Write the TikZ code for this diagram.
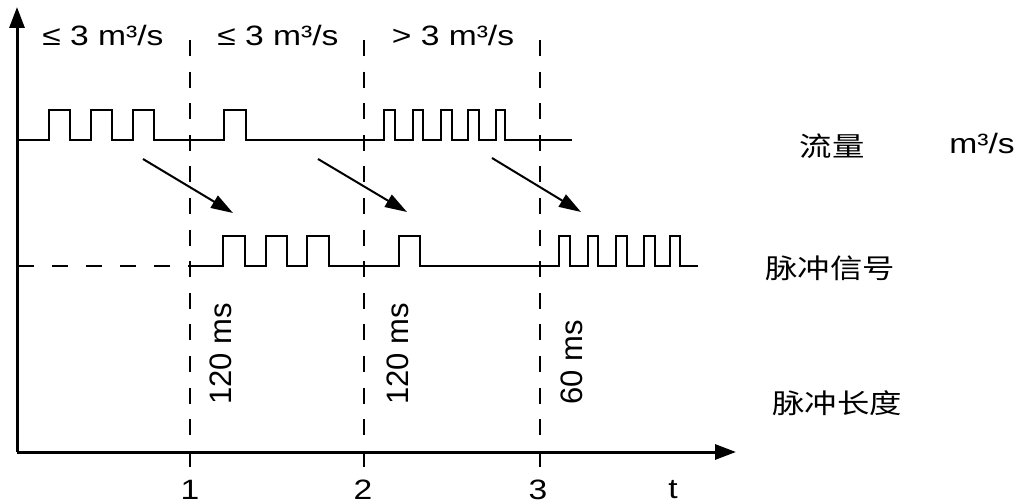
\documentclass[tikz,border=0pt]{standalone}
\usepackage{fontspec}
\setmainfont{Liberation Sans}
\newfontfamily\widefont{Liberation Sans}[FakeStretch=1.2]
\newfontfamily\cjkfont{Noto Sans CJK SC}[FakeStretch=1.2]
\usetikzlibrary{arrows.meta}
\begin{document}
\begin{tikzpicture}[x=1bp,y=-1bp,
  sig/.style={line width=2.8bp, line join=miter},
  axisline/.style={line width=3bp, -{Triangle[length=21bp,width=15bp]}},
  guide/.style={line width=2.2bp, dash pattern=on 16bp off 15.6bp},
  hguide/.style={line width=2.4bp, dash pattern=on 16bp off 18bp},
  flowarrow/.style={line width=2bp, -{Triangle[length=22bp,width=14bp]}},
  lbl/.style={font=\widefont\fontsize{28bp}{30bp}\selectfont, inner sep=0pt},
  rlbl/.style={font=\fontsize{31bp}{33bp}\selectfont, inner sep=0pt, rotate=90, anchor=west},
  clbl/.style={font=\cjkfont\fontsize{27bp}{30bp}\selectfont, inner sep=0pt}]
\useasboundingbox (0,0) rectangle (1019,504);

% axes
\coordinate (O) at (17,452);
\coordinate (ytip) at (17,7);
\coordinate (xtip) at (736,452);
\draw[axisline] (O) -- (ytip);
\draw[axisline] (O) -- (xtip);

% guide lines
\foreach \n/\x in {1/190,2/364,3/540}{
  \coordinate (g\n top) at (\x,40);
  \coordinate (g\n bot) at (\x,470);
  \draw[guide] (g\n top) -- (g\n bot);
}

% flow signal
\draw[sig] (18,140)
  \foreach \a/\b in {49/70,91/112,133/154,224/246,384/395,413/423,441/452,468/479,496/505}
  { -- (\a,140) -- (\a,110) -- (\b,110) -- (\b,140) } -- (572,140);

% pulse signal
\draw[hguide] (18,266) -- (190,266);
\draw[sig] (190,266)
  \foreach \a/\b in {223/245,266/287,307/329,399/420,559/570,588/598,616/627,644/655,670/680}
  { -- (\a,266) -- (\a,236) -- (\b,236) -- (\b,266) } -- (698,266);

% arrows
\coordinate (a1s) at (143,159); \coordinate (a1e) at (233,213);
\coordinate (a2s) at (318,159); \coordinate (a2e) at (407,212);
\coordinate (a3s) at (492,158); \coordinate (a3e) at (581,212);
\draw[flowarrow] (a1s) -- (a1e);
\draw[flowarrow] (a2s) -- (a2e);
\draw[flowarrow] (a3s) -- (a3e);

% range labels
\node[lbl] (r1) at (103,35) {≤ 3 m³/s};
\node[lbl] (r2) at (278,35) {≤ 3 m³/s};
\node[lbl] (r3) at (453,35) {> 3 m³/s};

% axis labels
\node[lbl] (t1) at (190,490) {1};
\node[lbl] (t2) at (363,490) {2};
\node[lbl] (t3) at (538,490) {3};
\node[lbl] (tt) at (673,490) {t};

% pulse lengths
\node[rlbl] (p1) at (221,405) {120 ms};
\node[rlbl] (p2) at (398,405) {120 ms};
\node[rlbl] (p3) at (572,405) {60 ms};

% right labels
\node[clbl] (c1) at (832,146) {流量};
\node[lbl] (unit) at (982,143) {m³/s};
\node[clbl] (c2) at (830,268) {脉冲信号};
\node[clbl] (c3) at (837,403) {脉冲长度};
\end{tikzpicture}
\end{document}
